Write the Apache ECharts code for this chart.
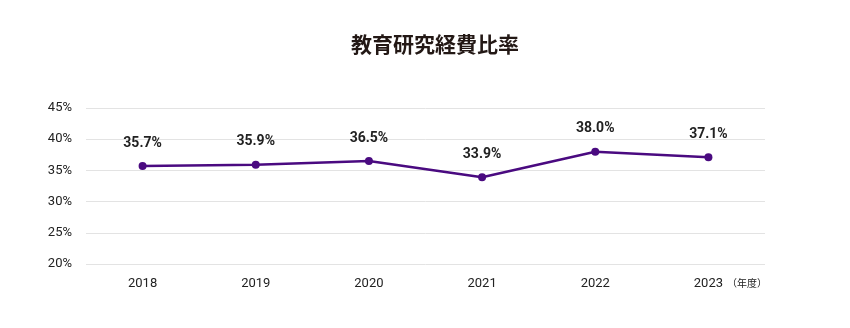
<!DOCTYPE html>
<html>
<head>
<meta charset="utf-8">
<script src="https://cdn.jsdelivr.net/npm/echarts@6/dist/echarts.min.js"></script>
<style>
  html, body { margin: 0; padding: 0; background: #fff; }
  #chart { width: 850px; height: 328px; }
</style>
</head>
<body>
<div id="chart"></div>
<script>
// Fiscal years and the share of education/research expenses (%)
const years = ['2018', '2019', '2020', '2021', '2022', '2023'];
const ratios = [35.7, 35.9, 36.5, 33.9, 38.0, 37.1];
const yTicks = { min: 20, max: 45, step: 5 };

const chart = echarts.init(document.getElementById('chart'), null, { renderer: 'canvas' });

chart.setOption({
  animation: false,
  title: {
    text: '教育研究経費比率',
    left: 346,
    top: 29,
    textStyle: {
      fontFamily: '"Noto Sans CJK JP", "Noto Sans", sans-serif',
      fontSize: 21,
      fontWeight: 'bold',
      color: '#231815'
    }
  },
  grid: { left: 86, right: 85, top: 108, bottom: 64 },
  xAxis: {
    type: 'category',
    data: years,
    boundaryGap: true,
    axisLine: { show: false },
    axisTick: { show: false },
    axisLabel: {
      margin: 13,
      fontFamily: 'Roboto, sans-serif',
      fontSize: 13,
      color: '#222'
    },
    name: '（年度）',
    nameLocation: 'end',
    nameGap: -38,
    nameTextStyle: {
      fontFamily: '"Noto Sans CJK JP", sans-serif',
      fontSize: 10,
      color: '#222',
      verticalAlign: 'top',
      padding: [14, 0, 0, 0]
    }
  },
  yAxis: {
    type: 'value',
    min: yTicks.min,
    max: yTicks.max,
    interval: yTicks.step,
    axisLine: { show: false },
    axisTick: { show: false },
    axisLabel: {
      margin: 14,
      formatter: '{value}%',
      fontFamily: 'Roboto, sans-serif',
      fontSize: 13,
      color: '#222'
    },
    splitLine: { lineStyle: { color: '#e3e3e3', width: 1 } }
  },
  series: [{
    type: 'line',
    data: ratios,
    symbol: 'circle',
    symbolSize: 8,
    lineStyle: { color: '#4a0a80', width: 2.5 },
    itemStyle: { color: '#4a0a80' },
    label: {
      show: true,
      position: 'top',
      distance: 12,
      formatter: p => p.value.toFixed(1) + '%',
      fontFamily: 'Roboto, sans-serif',
      fontSize: 14,
      fontWeight: 'bold',
      color: '#222'
    }
  }]
});
</script>
</body>
</html>
